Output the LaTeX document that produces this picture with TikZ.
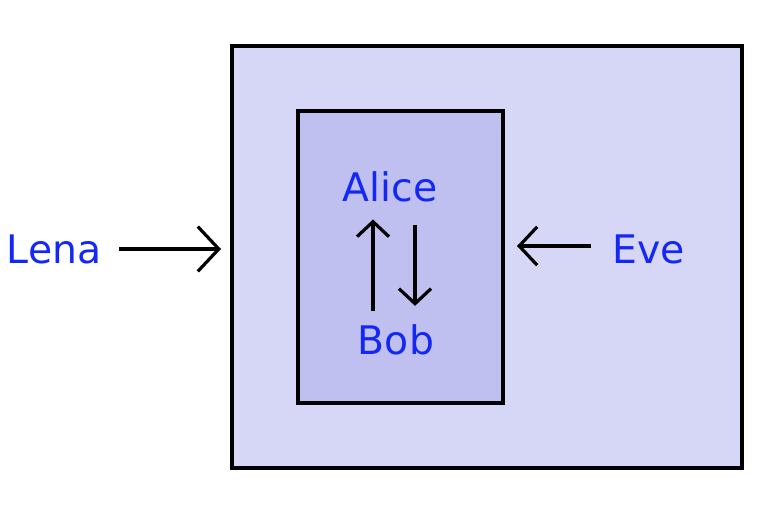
\documentclass[tikz,border=0pt]{standalone}
\usepackage{fontspec}
\setmainfont{DejaVu Sans}
\usetikzlibrary{arrows.meta,positioning}
\definecolor{outerfill}{RGB}{214,214,246}
\definecolor{innerfill}{RGB}{192,192,240}
\definecolor{nameblue}{RGB}{20,40,245}

\begin{document}
\begin{tikzpicture}[
    x=0.75pt, y=-0.75pt,
    box/.style={draw=black, line width=2.5pt},
    person/.style={text=nameblue, inner sep=0pt, font=\fontsize{29.5}{34}\selectfont},
    arr/.style={-{Straight Barb[length=#1*0.75pt, width=#1*1.6pt, line width=2.4pt]}, line width=2.4pt},
    arr/.default=18
]
    \useasboundingbox (0,0) rectangle (762,531);
    \draw[box, fill=outerfill] (232,46) rectangle (742,468);
    \draw[box, fill=innerfill] (298,111) rectangle (503,403);
    \coordinate (outer) at (232,249);
    \coordinate (inner) at (503,246);
    \coordinate (upx) at (373,0);
    \coordinate (downx) at (415,0);

    \node[person] (lena) at (54,249) {Lena};
    \node[person] (eve) at (649,249) {Eve};
    \node[person] (alice) at (390,187) {Alice};
    \node[person] (bob) at (396,340) {Bob};

    \draw[arr=21, shorten <=13.5pt, shorten >=8.25pt] (lena) -- (outer);
    \draw[arr=18, shorten <=16.5pt, shorten >=10.5pt] (eve.west |- inner) -- (inner);
    \draw[arr=15, shorten <=10.5pt, shorten >=12.75pt] (bob.north -| upx) -- (alice.south -| upx);
    \draw[arr=15, shorten <=17.25pt, shorten >=14pt] (alice.south -| downx) -- (bob.north -| downx);
\end{tikzpicture}
\end{document}
